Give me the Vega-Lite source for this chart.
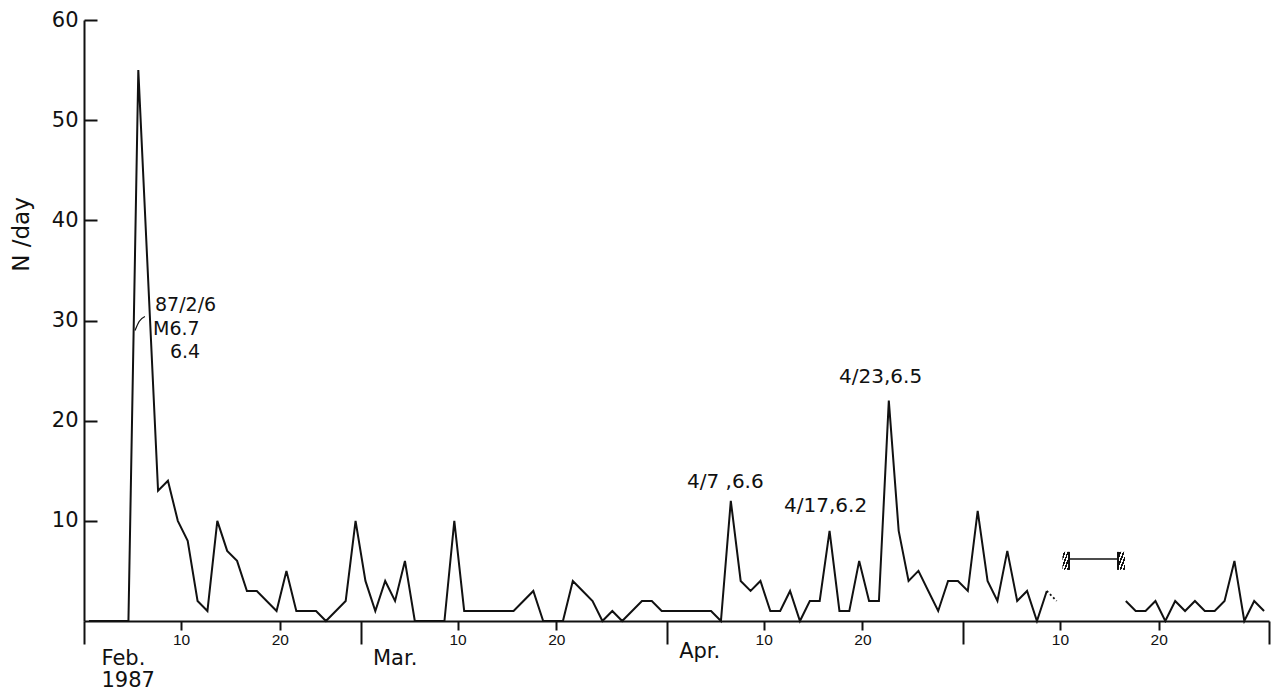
{
  "$schema": "https://vega.github.io/schema/vega-lite/v6.json",
  "width": 1185,
  "height": 601,
  "autosize": {"type": "none"},
  "padding": {"left": 84, "top": 20, "right": 8, "bottom": 74},
  "background": "white",
  "datasets": {
    "daily": [
      {"date": "1987-02-01T12:00:00Z", "n": 0, "part": 1},
      {"date": "1987-02-02T12:00:00Z", "n": 0, "part": 1},
      {"date": "1987-02-03T12:00:00Z", "n": 0, "part": 1},
      {"date": "1987-02-04T12:00:00Z", "n": 0, "part": 1},
      {"date": "1987-02-05T12:00:00Z", "n": 0, "part": 1},
      {"date": "1987-02-06T12:00:00Z", "n": 55, "part": 1},
      {"date": "1987-02-08T12:00:00Z", "n": 13, "part": 1},
      {"date": "1987-02-09T12:00:00Z", "n": 14, "part": 1},
      {"date": "1987-02-10T12:00:00Z", "n": 10, "part": 1},
      {"date": "1987-02-11T12:00:00Z", "n": 8, "part": 1},
      {"date": "1987-02-12T12:00:00Z", "n": 2, "part": 1},
      {"date": "1987-02-13T12:00:00Z", "n": 1, "part": 1},
      {"date": "1987-02-14T12:00:00Z", "n": 10, "part": 1},
      {"date": "1987-02-15T12:00:00Z", "n": 7, "part": 1},
      {"date": "1987-02-16T12:00:00Z", "n": 6, "part": 1},
      {"date": "1987-02-17T12:00:00Z", "n": 3, "part": 1},
      {"date": "1987-02-18T12:00:00Z", "n": 3, "part": 1},
      {"date": "1987-02-20T12:00:00Z", "n": 1, "part": 1},
      {"date": "1987-02-21T12:00:00Z", "n": 5, "part": 1},
      {"date": "1987-02-22T12:00:00Z", "n": 1, "part": 1},
      {"date": "1987-02-23T12:00:00Z", "n": 1, "part": 1},
      {"date": "1987-02-24T12:00:00Z", "n": 1, "part": 1},
      {"date": "1987-02-25T12:00:00Z", "n": 0, "part": 1},
      {"date": "1987-02-27T12:00:00Z", "n": 2, "part": 1},
      {"date": "1987-02-28T12:00:00Z", "n": 10, "part": 1},
      {"date": "1987-03-01T12:00:00Z", "n": 4, "part": 1},
      {"date": "1987-03-02T12:00:00Z", "n": 1, "part": 1},
      {"date": "1987-03-03T12:00:00Z", "n": 4, "part": 1},
      {"date": "1987-03-04T12:00:00Z", "n": 2, "part": 1},
      {"date": "1987-03-05T12:00:00Z", "n": 6, "part": 1},
      {"date": "1987-03-06T12:00:00Z", "n": 0, "part": 1},
      {"date": "1987-03-07T12:00:00Z", "n": 0, "part": 1},
      {"date": "1987-03-08T12:00:00Z", "n": 0, "part": 1},
      {"date": "1987-03-09T12:00:00Z", "n": 0, "part": 1},
      {"date": "1987-03-10T12:00:00Z", "n": 10, "part": 1},
      {"date": "1987-03-11T12:00:00Z", "n": 1, "part": 1},
      {"date": "1987-03-12T12:00:00Z", "n": 1, "part": 1},
      {"date": "1987-03-13T12:00:00Z", "n": 1, "part": 1},
      {"date": "1987-03-14T12:00:00Z", "n": 1, "part": 1},
      {"date": "1987-03-15T12:00:00Z", "n": 1, "part": 1},
      {"date": "1987-03-16T12:00:00Z", "n": 1, "part": 1},
      {"date": "1987-03-18T12:00:00Z", "n": 3, "part": 1},
      {"date": "1987-03-19T12:00:00Z", "n": 0, "part": 1},
      {"date": "1987-03-20T12:00:00Z", "n": 0, "part": 1},
      {"date": "1987-03-21T12:00:00Z", "n": 0, "part": 1},
      {"date": "1987-03-22T12:00:00Z", "n": 4, "part": 1},
      {"date": "1987-03-23T12:00:00Z", "n": 3, "part": 1},
      {"date": "1987-03-24T12:00:00Z", "n": 2, "part": 1},
      {"date": "1987-03-25T12:00:00Z", "n": 0, "part": 1},
      {"date": "1987-03-26T12:00:00Z", "n": 1, "part": 1},
      {"date": "1987-03-27T12:00:00Z", "n": 0, "part": 1},
      {"date": "1987-03-29T12:00:00Z", "n": 2, "part": 1},
      {"date": "1987-03-30T12:00:00Z", "n": 2, "part": 1},
      {"date": "1987-03-31T12:00:00Z", "n": 1, "part": 1},
      {"date": "1987-04-01T12:00:00Z", "n": 1, "part": 1},
      {"date": "1987-04-02T12:00:00Z", "n": 1, "part": 1},
      {"date": "1987-04-03T12:00:00Z", "n": 1, "part": 1},
      {"date": "1987-04-04T12:00:00Z", "n": 1, "part": 1},
      {"date": "1987-04-05T12:00:00Z", "n": 1, "part": 1},
      {"date": "1987-04-06T12:00:00Z", "n": 0, "part": 1},
      {"date": "1987-04-07T12:00:00Z", "n": 12, "part": 1},
      {"date": "1987-04-08T12:00:00Z", "n": 4, "part": 1},
      {"date": "1987-04-09T12:00:00Z", "n": 3, "part": 1},
      {"date": "1987-04-10T12:00:00Z", "n": 4, "part": 1},
      {"date": "1987-04-11T12:00:00Z", "n": 1, "part": 1},
      {"date": "1987-04-12T12:00:00Z", "n": 1, "part": 1},
      {"date": "1987-04-13T12:00:00Z", "n": 3, "part": 1},
      {"date": "1987-04-14T12:00:00Z", "n": 0, "part": 1},
      {"date": "1987-04-15T12:00:00Z", "n": 2, "part": 1},
      {"date": "1987-04-16T12:00:00Z", "n": 2, "part": 1},
      {"date": "1987-04-17T12:00:00Z", "n": 9, "part": 1},
      {"date": "1987-04-18T12:00:00Z", "n": 1, "part": 1},
      {"date": "1987-04-19T12:00:00Z", "n": 1, "part": 1},
      {"date": "1987-04-20T12:00:00Z", "n": 6, "part": 1},
      {"date": "1987-04-21T12:00:00Z", "n": 2, "part": 1},
      {"date": "1987-04-22T12:00:00Z", "n": 2, "part": 1},
      {"date": "1987-04-23T12:00:00Z", "n": 22, "part": 1},
      {"date": "1987-04-24T12:00:00Z", "n": 9, "part": 1},
      {"date": "1987-04-25T12:00:00Z", "n": 4, "part": 1},
      {"date": "1987-04-26T12:00:00Z", "n": 5, "part": 1},
      {"date": "1987-04-27T12:00:00Z", "n": 3, "part": 1},
      {"date": "1987-04-28T12:00:00Z", "n": 1, "part": 1},
      {"date": "1987-04-29T12:00:00Z", "n": 4, "part": 1},
      {"date": "1987-04-30T12:00:00Z", "n": 4, "part": 1},
      {"date": "1987-05-01T12:00:00Z", "n": 3, "part": 1},
      {"date": "1987-05-02T12:00:00Z", "n": 11, "part": 1},
      {"date": "1987-05-03T12:00:00Z", "n": 4, "part": 1},
      {"date": "1987-05-04T12:00:00Z", "n": 2, "part": 1},
      {"date": "1987-05-05T12:00:00Z", "n": 7, "part": 1},
      {"date": "1987-05-06T12:00:00Z", "n": 2, "part": 1},
      {"date": "1987-05-07T12:00:00Z", "n": 3, "part": 1},
      {"date": "1987-05-08T12:00:00Z", "n": 0, "part": 1},
      {"date": "1987-05-09T12:00:00Z", "n": 3, "part": 1},
      {"date": "1987-05-17T12:00:00Z", "n": 2, "part": 2},
      {"date": "1987-05-18T12:00:00Z", "n": 1, "part": 2},
      {"date": "1987-05-19T12:00:00Z", "n": 1, "part": 2},
      {"date": "1987-05-20T12:00:00Z", "n": 2, "part": 2},
      {"date": "1987-05-21T12:00:00Z", "n": 0, "part": 2},
      {"date": "1987-05-22T12:00:00Z", "n": 2, "part": 2},
      {"date": "1987-05-23T12:00:00Z", "n": 1, "part": 2},
      {"date": "1987-05-24T12:00:00Z", "n": 2, "part": 2},
      {"date": "1987-05-25T12:00:00Z", "n": 1, "part": 2},
      {"date": "1987-05-26T12:00:00Z", "n": 1, "part": 2},
      {"date": "1987-05-27T12:00:00Z", "n": 2, "part": 2},
      {"date": "1987-05-28T12:00:00Z", "n": 6, "part": 2},
      {"date": "1987-05-29T12:00:00Z", "n": 0, "part": 2},
      {"date": "1987-05-30T12:00:00Z", "n": 2, "part": 2},
      {"date": "1987-05-31T12:00:00Z", "n": 1, "part": 2}
    ],
    "dotted": [
      {"date": "1987-05-09T12:00:00Z", "n": 3},
      {"date": "1987-05-10T12:00:00Z", "n": 2}
    ],
    "notes": [
      {"date": "1987-04-03T01:30:00Z", "n": 13.3, "label": "4/7 ,6.6"},
      {"date": "1987-04-12T21:20:00Z", "n": 10.9, "label": "4/17,6.2"},
      {"date": "1987-04-18T11:00:00Z", "n": 23.8, "label": "4/23,6.5"}
    ],
    "quake": [
      {"date": "1987-02-08T04:30:00Z", "n": 30.9, "label": "87/2/6"},
      {"date": "1987-02-07T23:45:00Z", "n": 28.6, "label": "M6.7"},
      {"date": "1987-02-09T17:00:00Z", "n": 26.3, "label": "6.4"}
    ],
    "leader": [
      {"date": "1987-02-06T04:00:00Z", "n": 29.0},
      {"date": "1987-02-06T14:00:00Z", "n": 29.9},
      {"date": "1987-02-07T04:00:00Z", "n": 30.4}
    ],
    "gap": [
      {"start": "1987-05-11T18:00:00Z", "end": "1987-05-16T17:00:00Z", "n": 6.2}
    ],
    "caps": [
      {"start": "1987-05-11T02:00:00Z", "end": "1987-05-11T18:00:00Z", "inner": "1987-05-11T18:00:00Z", "lo": 5.1, "hi": 6.9},
      {"start": "1987-05-16T17:00:00Z", "end": "1987-05-17T10:00:00Z", "inner": "1987-05-16T17:00:00Z", "lo": 5.1, "hi": 6.9}
    ]
  },
  "layer": [
    {
      "data": {"name": "daily"},
      "mark": {"type": "line", "color": "#111111", "strokeWidth": 2},
      "encoding": {
        "x": {
          "field": "date", "type": "temporal",
          "scale": {"type": "utc", "domain": [{"year": 1987, "month": 2, "date": 1, "utc": true}, {"year": 1987, "month": 6, "date": 1, "utc": true}], "nice": false},
          "axis": {
            "orient": "bottom",
            "title": null,
            "values": [
              {"year": 1987, "month": 2, "date": 10, "hours": 20, "utc": true},
              {"year": 1987, "month": 2, "date": 20, "hours": 20, "utc": true},
              {"year": 1987, "month": 3, "date": 10, "hours": 20, "utc": true},
              {"year": 1987, "month": 3, "date": 20, "hours": 20, "utc": true},
              {"year": 1987, "month": 4, "date": 10, "hours": 20, "utc": true},
              {"year": 1987, "month": 4, "date": 20, "hours": 20, "utc": true},
              {"year": 1987, "month": 5, "date": 10, "hours": 20, "utc": true},
              {"year": 1987, "month": 5, "date": 20, "hours": 20, "utc": true}
            ],
            "labelExpr": "'' + utcdate(datum.value)",
            "tickSize": 9,
            "labelPadding": 2,
            "labelFont": "Liberation Sans",
            "labelFontSize": 15.5,
            "labelFlush": false,
            "labelOverlap": false,
            "domain": true
          }
        },
        "y": {
          "field": "n", "type": "quantitative",
          "scale": {"domain": [0, 60], "nice": false, "zero": true},
          "axis": {
            "title": "N /day",
            "values": [10, 20, 30, 40, 50, 60],
            "tickSize": -13,
            "labelPadding": 19,
            "labelFontSize": 21,
            "titleFontSize": 23,
            "titleFontWeight": "normal",
            "titleAngle": 270,
            "titleAlign": "center",
            "titleBaseline": "alphabetic",
            "titleX": -56,
            "titleY": 214
          }
        },
        "detail": {"field": "part", "type": "nominal"}
      }
    },
    {
      "data": {"name": "dotted"},
      "mark": {"type": "line", "color": "#111111", "strokeWidth": 1.8, "strokeDash": [2, 2.5]},
      "encoding": {
        "x": {
          "field": "date", "type": "temporal",
          "scale": {"type": "utc", "domain": [{"year": 1987, "month": 2, "date": 1, "utc": true}, {"year": 1987, "month": 6, "date": 1, "utc": true}], "nice": false},
          "axis": {
            "orient": "bottom",
            "title": null,
            "domain": false,
            "values": [
              {"year": 1987, "month": 2, "date": 1, "utc": true},
              {"year": 1987, "month": 3, "date": 1, "utc": true},
              {"year": 1987, "month": 4, "date": 1, "utc": true},
              {"year": 1987, "month": 5, "date": 1, "utc": true},
              {"year": 1987, "month": 6, "date": 1, "utc": true}
            ],
            "labelExpr": "utcmonth(datum.value) == 1 ? ['Feb.', '1987'] : utcmonth(datum.value) == 2 ? 'Mar.' : utcmonth(datum.value) == 3 ? 'Apr.' : ''",
            "tickSize": 23,
            "labelAlign": "left",
            "labelOffset": {"condition": {"test": "utcmonth(datum.value) == 1", "value": 17}, "value": 12},
            "labelPadding": {"condition": {"test": "utcmonth(datum.value) == 3", "value": -4}, "value": 3},
            "labelFontSize": 21,
            "labelLineHeight": 22,
            "labelFlush": false,
            "labelOverlap": false
          }
        },
        "y": {"field": "n", "type": "quantitative", "scale": {"domain": [0, 60], "nice": false}}
      }
    },
    {
      "data": {"name": "leader"},
      "mark": {"type": "line", "color": "#111111", "strokeWidth": 1.3, "interpolate": "monotone"},
      "encoding": {
        "x": {"field": "date", "type": "temporal", "scale": {"type": "utc", "domain": [{"year": 1987, "month": 2, "date": 1, "utc": true}, {"year": 1987, "month": 6, "date": 1, "utc": true}], "nice": false}, "axis": null},
        "y": {"field": "n", "type": "quantitative", "scale": {"domain": [0, 60], "nice": false}}
      }
    },
    {
      "data": {"name": "notes"},
      "mark": {"type": "text", "align": "left", "baseline": "alphabetic", "font": "DejaVu Sans", "fontSize": 20, "color": "#111111"},
      "encoding": {
        "x": {"field": "date", "type": "temporal", "scale": {"type": "utc", "domain": [{"year": 1987, "month": 2, "date": 1, "utc": true}, {"year": 1987, "month": 6, "date": 1, "utc": true}], "nice": false}, "axis": null},
        "y": {"field": "n", "type": "quantitative", "scale": {"domain": [0, 60], "nice": false}},
        "text": {"field": "label"}
      }
    },
    {
      "data": {"name": "quake"},
      "mark": {"type": "text", "align": "left", "baseline": "alphabetic", "font": "DejaVu Sans", "fontSize": 19, "color": "#111111"},
      "encoding": {
        "x": {"field": "date", "type": "temporal", "scale": {"type": "utc", "domain": [{"year": 1987, "month": 2, "date": 1, "utc": true}, {"year": 1987, "month": 6, "date": 1, "utc": true}], "nice": false}, "axis": null},
        "y": {"field": "n", "type": "quantitative", "scale": {"domain": [0, 60], "nice": false}},
        "text": {"field": "label"}
      }
    },
    {
      "data": {"name": "gap"},
      "mark": {"type": "rule", "color": "#111111", "strokeWidth": 1.5},
      "encoding": {
        "x": {"field": "start", "type": "temporal", "scale": {"type": "utc", "domain": [{"year": 1987, "month": 2, "date": 1, "utc": true}, {"year": 1987, "month": 6, "date": 1, "utc": true}], "nice": false}, "axis": null},
        "x2": {"field": "end"},
        "y": {"field": "n", "type": "quantitative", "scale": {"domain": [0, 60], "nice": false}}
      }
    },
    {
      "data": {"name": "caps"},
      "mark": {
        "type": "rect",
        "fill": {
          "gradient": "linear", "x1": 0, "y1": 0, "x2": 1, "y2": 1,
          "stops": [
            {"offset": 0, "color": "#ffffff"},
            {"offset": 0.12, "color": "#ffffff"},
            {"offset": 0.12, "color": "#111111"},
            {"offset": 0.24, "color": "#111111"},
            {"offset": 0.24, "color": "#ffffff"},
            {"offset": 0.36, "color": "#ffffff"},
            {"offset": 0.36, "color": "#111111"},
            {"offset": 0.48, "color": "#111111"},
            {"offset": 0.48, "color": "#ffffff"},
            {"offset": 0.6, "color": "#ffffff"},
            {"offset": 0.6, "color": "#111111"},
            {"offset": 0.72, "color": "#111111"},
            {"offset": 0.72, "color": "#ffffff"},
            {"offset": 0.84, "color": "#ffffff"},
            {"offset": 0.84, "color": "#111111"},
            {"offset": 0.96, "color": "#111111"},
            {"offset": 0.96, "color": "#ffffff"},
            {"offset": 1, "color": "#ffffff"}
          ]
        }
      },
      "encoding": {
        "x": {"field": "start", "type": "temporal", "scale": {"type": "utc", "domain": [{"year": 1987, "month": 2, "date": 1, "utc": true}, {"year": 1987, "month": 6, "date": 1, "utc": true}], "nice": false}, "axis": null},
        "x2": {"field": "end"},
        "y": {"field": "lo", "type": "quantitative", "scale": {"domain": [0, 60], "nice": false}},
        "y2": {"field": "hi"}
      }
    },
    {
      "data": {"name": "caps"},
      "mark": {"type": "rule", "color": "#111111", "strokeWidth": 2},
      "encoding": {
        "x": {"field": "inner", "type": "temporal", "scale": {"type": "utc", "domain": [{"year": 1987, "month": 2, "date": 1, "utc": true}, {"year": 1987, "month": 6, "date": 1, "utc": true}], "nice": false}, "axis": null},
        "y": {"field": "lo", "type": "quantitative", "scale": {"domain": [0, 60], "nice": false}},
        "y2": {"field": "hi"}
      }
    }
  ],
  "resolve": {"axis": {"x": "independent"}},
  "config": {
    "view": {"stroke": null},
    "font": "DejaVu Sans",
    "axis": {
      "grid": false,
      "domainColor": "#111111",
      "domainWidth": 2,
      "tickColor": "#111111",
      "tickWidth": 2,
      "labelColor": "#111111",
      "titleColor": "#111111",
      "labelFont": "DejaVu Sans",
      "titleFont": "DejaVu Sans"
    }
  }
}
